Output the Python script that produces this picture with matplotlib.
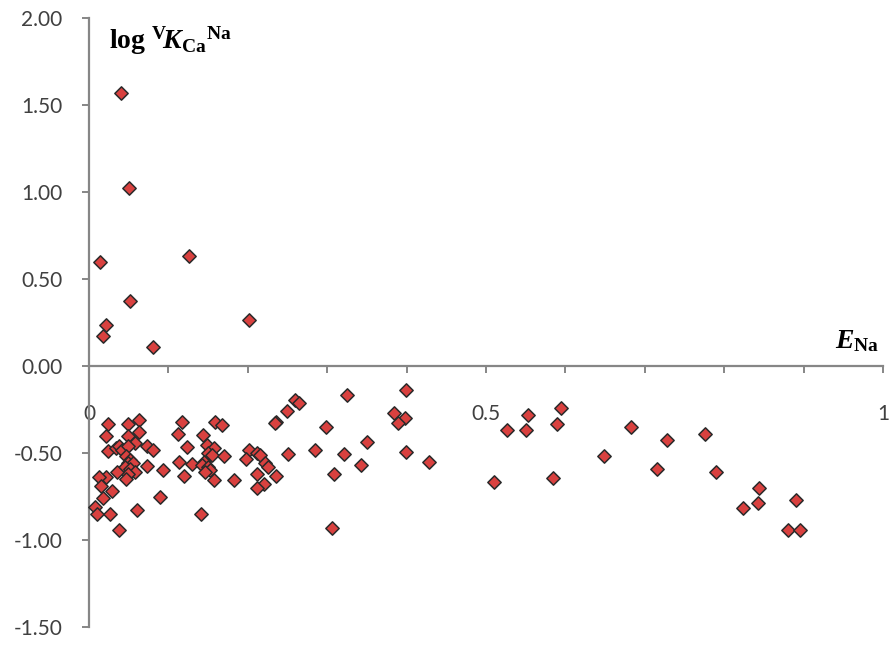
import matplotlib
matplotlib.use("Agg")
import matplotlib.pyplot as plt
from matplotlib.ticker import FixedLocator, MultipleLocator

# E_Na (equivalent fraction of Na) vs log VK_Ca^Na
E_NA = [
    # upper scatter
    0.040, 0.050, 0.014, 0.126, 0.052, 0.021, 0.018, 0.081, 0.201,
    # dense group x < 0.1
    0.024, 0.049, 0.063, 0.021, 0.049, 0.063, 0.058, 0.024, 0.034, 0.038,
    0.041, 0.049, 0.073, 0.081, 0.047, 0.052, 0.049, 0.056, 0.045, 0.052,
    0.073, 0.058, 0.049, 0.035, 0.047, 0.022, 0.012, 0.093, 0.015, 0.029,
    0.018, 0.090, 0.008, 0.010, 0.026, 0.061, 0.038,
    # group 0.1 - 0.27
    0.117, 0.112, 0.159, 0.167, 0.143, 0.123, 0.148, 0.157, 0.150, 0.155,
    0.170, 0.130, 0.113, 0.145, 0.142, 0.150, 0.152, 0.146, 0.157, 0.120,
    0.183, 0.141, 0.201, 0.211, 0.215, 0.198, 0.222, 0.226, 0.212, 0.235,
    0.220, 0.212, 0.259, 0.264, 0.249, 0.236, 0.234, 0.250,
    # group 0.28 - 0.45
    0.285, 0.299, 0.325, 0.321, 0.308, 0.306, 0.343, 0.350, 0.384, 0.398,
    0.389, 0.399, 0.399, 0.428,
    # high E_Na
    0.510, 0.526, 0.553, 0.550, 0.595, 0.590, 0.585, 0.648, 0.683, 0.728,
    0.715, 0.776, 0.790, 0.844, 0.843, 0.824, 0.891, 0.880, 0.896,
]
LOG_K = [
    1.570, 1.025, 0.600, 0.632, 0.373, 0.235, 0.172, 0.107, 0.264,
    -0.333, -0.333, -0.310, -0.400, -0.400, -0.380, -0.440, -0.490, -0.470, -0.460,
    -0.480, -0.460, -0.460, -0.480, -0.520, -0.540, -0.560, -0.560, -0.580, -0.590,
    -0.575, -0.610, -0.620, -0.610, -0.650, -0.640, -0.640, -0.600, -0.690, -0.717,
    -0.760, -0.755, -0.810, -0.850, -0.850, -0.830, -0.940,
    -0.320, -0.390, -0.320, -0.340, -0.397, -0.464, -0.454, -0.473, -0.502, -0.511,
    -0.516, -0.563, -0.552, -0.550, -0.569, -0.579, -0.598, -0.607, -0.655, -0.635,
    -0.658, -0.850, -0.483, -0.502, -0.511, -0.534, -0.559, -0.578, -0.620, -0.632,
    -0.678, -0.704, -0.195, -0.214, -0.260, -0.320, -0.330, -0.507,
    -0.483, -0.352, -0.167, -0.507, -0.620, -0.933, -0.569, -0.435, -0.268, -0.297,
    -0.330, -0.138, -0.493, -0.553,
    -0.665, -0.368, -0.282, -0.368, -0.243, -0.335, -0.642, -0.517, -0.352, -0.425,
    -0.592, -0.391, -0.607, -0.700, -0.786, -0.818, -0.770, -0.940, -0.940,
]

Y_TICKS = [-1.5, -1.0, -0.5, 0.0, 0.5, 1.0, 1.5, 2.0]
X_TICKS = [0, 0.5, 1]
X_TICK_LABELS = ["0", "0.5", "1"]

AXIS_GREY = "#868686"
LABEL_GREY = "#404040"

plt.rcParams.update({
    "font.family": ["Lato", "DejaVu Sans"],
    "mathtext.fontset": "custom",
    "mathtext.rm": "Liberation Serif:bold",
    "mathtext.it": "Liberation Serif:bold:italic",
    "mathtext.bf": "Liberation Serif:bold",
})

fig = plt.figure(figsize=(8.91, 6.47), dpi=100)
ax = fig.add_axes([89 / 891, 20 / 647, 794 / 891, 609 / 647])

ax.scatter(E_NA, LOG_K, marker="D", s=46, facecolor="#d9413f",
           edgecolor="#2a2a2a", linewidth=1.1, zorder=3, clip_on=False)

ax.set_xlim(0, 1)
ax.set_ylim(-1.5, 2.0)

for side in ("top", "right"):
    ax.spines[side].set_visible(False)
ax.spines["bottom"].set_position(("data", 0))
for side in ("left", "bottom"):
    ax.spines[side].set_color(AXIS_GREY)
    ax.spines[side].set_linewidth(1.6)

ax.yaxis.set_major_locator(FixedLocator(Y_TICKS))
ax.set_yticklabels([f"{v:.2f}" for v in Y_TICKS])
ax.xaxis.set_major_locator(FixedLocator(X_TICKS))
ax.set_xticklabels(X_TICK_LABELS)
ax.xaxis.set_minor_locator(MultipleLocator(0.1))

ax.tick_params(axis="y", direction="out", length=5, width=1.4, color=AXIS_GREY,
               labelsize=15, labelcolor=LABEL_GREY, pad=14)
ax.tick_params(axis="x", which="both", direction="out", length=5, width=1.4,
               color=AXIS_GREY, labelsize=15, labelcolor=LABEL_GREY, pad=22)

ax.text(0.025, 1.87,
        r"$\mathrm{log}\ {}^{\mathrm{V}}\!K_{\mathrm{Ca}}{}^{\mathrm{Na}}$",
        fontsize=20, color="black", ha="left", va="center")
ax.text(0.995, 0.07, r"$E_{\mathrm{Na}}$", fontsize=20, color="black",
        ha="right", va="bottom")

fig.savefig("out.png", dpi=100)
